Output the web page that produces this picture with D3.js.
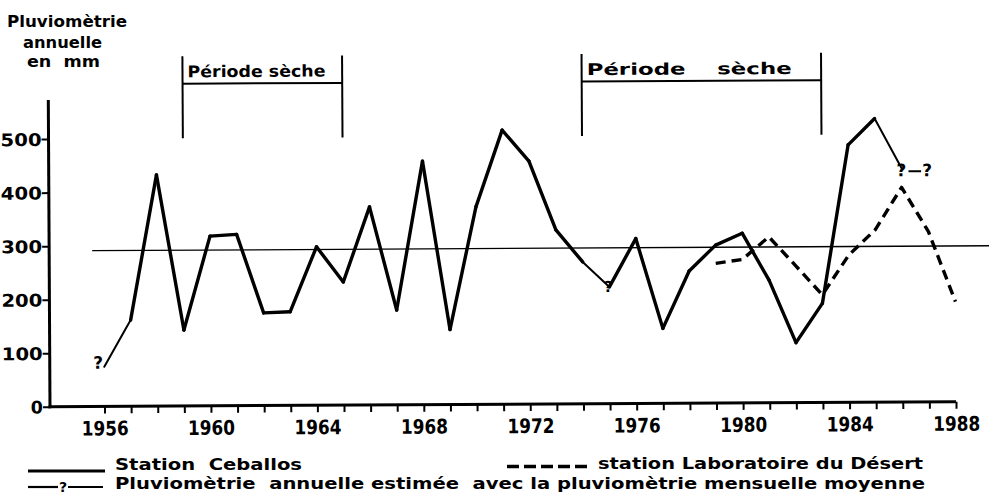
<!DOCTYPE html>
<html>
<head>
<meta charset="utf-8">
<script src="https://cdn.jsdelivr.net/npm/d3@7"></script>
<style>
  html, body { margin: 0; padding: 0; background: #fff; }
  svg { display: block; }
  text { font-family: "DejaVu Sans", "Liberation Sans", sans-serif; font-weight: bold; fill: #000; }
</style>
</head>
<body>
<svg id="chart" width="989" height="498"></svg>
<script>
// ---------- data ----------
const ceballosYears  = [1956,1957,1958,1959,1960,1961,1962,1963,1964,1965,1966,1967,1968,1969,1970,1971,1972,1973,1974,1975,1976,1977,1978,1979,1980,1981,1982,1983,1984,1985,1986];
const ceballosValues = [74,161,432,142,317,320,173,175,296,230,370,177,455,140,369,512,454,325,265,218,308,140,247,295,317,229,112,185,481,530,437];
const estimatedStartYears = [1956, 1974, 1985];   // segments whose value is estimated ("?")
const laboYears  = [1979,1980,1981,1982,1983,1984,1985,1986,1987,1988];
const laboValues = [261,268,310,256,201,275,322,401,318,187];
const estimatedYears  = [1986, 1987];
const estimatedValues = [431, 431];
const questionYears  = [1956, 1975];
const questionValues = [74, 218];
const meanValue = 291;
const dryPeriods = [[1959, 1965, "Période sèche"], [1974, 1983, "Période    sèche"]];
const xTickYears = [1956,1957,1958,1959,1960,1961,1962,1963,1964,1965,1966,1967,1968,1969,1970,1971,1972,1973,1974,1975,1976,1977,1978,1979,1980,1981,1982,1983,1984,1985,1986,1987,1988];
const xLabelYears = [1956,1960,1964,1968,1972,1976,1980,1984,1988];
const yTicks = [0,100,200,300,400,500];
const titleLines = ["Pluviomètrie", "annuelle", "en  mm"];

// ---------- scales ----------
const svg = d3.select("#chart");
const x = d3.scaleLinear().domain([1956, 1988]).range([104.5, 956]);
const y = d3.scaleLinear().domain([0, 573]).range([406.7, 100]);

// whole plot slightly tilted like the scanned figure
const g = svg.append("g").attr("transform", "rotate(-0.316 50 407)");

// axes lines
g.append("line").attr("x1", 50).attr("x2", 50).attr("y1", y(0)+1.5).attr("y2", y(573))
  .attr("stroke", "#000").attr("stroke-width", 3);
g.append("line").attr("x1", 48.5).attr("x2", x(1988)).attr("y1", y(0)).attr("y2", y(0))
  .attr("stroke", "#000").attr("stroke-width", 3);

// x axis ticks + labels
const xAxis = d3.axisBottom(x).tickValues(xTickYears).tickSize(7).tickSizeOuter(0)
  .tickFormat(d => xLabelYears.includes(d) ? String(d) : "");
const gx = g.append("g").attr("transform", `translate(0,${y(0)})`).call(xAxis);
gx.select(".domain").remove();
gx.selectAll(".tick line").attr("stroke", "#000").attr("stroke-width", 2);
gx.selectAll(".tick text").attr("y", 29).attr("dy", 0)
  .style("font-size", "20px").style("font-family", "DejaVu Sans").style("font-weight", "bold")
  .each(function(d){ if (xLabelYears.includes(d)) d3.select(this).attr("textLength", 47).attr("lengthAdjust", "spacingAndGlyphs"); });

// y axis ticks + labels
const yAxis = d3.axisLeft(y).tickValues(yTicks).tickSize(7).tickSizeOuter(0).tickFormat(d3.format("d"));
const gy = g.append("g").attr("transform", "translate(50,0)").call(yAxis);
gy.select(".domain").remove();
gy.selectAll(".tick line").attr("stroke", "#000").attr("stroke-width", 2);
gy.selectAll(".tick text").attr("x", -7).attr("dy", "0.36em")
  .style("font-size", "17.5px").style("font-family", "DejaVu Sans").style("font-weight", "bold")
  .each(function(d){ if (d >= 100) d3.select(this).attr("textLength", 41).attr("lengthAdjust", "spacingAndGlyphs"); });

// mean line
g.append("line").attr("x1", x(1955.57)).attr("x2", 990).attr("y1", y(meanValue)).attr("y2", y(meanValue))
  .attr("stroke", "#000").attr("stroke-width", 1.3);

// dry period brackets
dryPeriods.forEach(([a, b, label]) => {
  const br = g.append("g");
  br.append("line").attr("x1", x(a)).attr("x2", x(a)).attr("y1", 57).attr("y2", 139).attr("stroke", "#000").attr("stroke-width", 2);
  br.append("line").attr("x1", x(b)).attr("x2", x(b)).attr("y1", 57).attr("y2", 139).attr("stroke", "#000").attr("stroke-width", 2);
  br.append("line").attr("x1", x(a)).attr("x2", x(b)).attr("y1", 84.5).attr("y2", 84.5).attr("stroke", "#000").attr("stroke-width", 2);
  const tl = a === 1959 ? 138 : 205;
  br.append("text").attr("x", x(a) + 5).attr("y", 78).style("font-size", "16px")
    .attr("xml:space", "preserve").style("white-space", "pre")
    .attr("textLength", tl).attr("lengthAdjust", "spacingAndGlyphs").text(label);
});

// Ceballos series: solid, segment by segment
const ceb = ceballosYears.map((yr, i) => ({ yr, v: ceballosValues[i] }));
const segs = d3.pairs(ceb);
g.append("g").selectAll("line").data(segs).join("line")
  .attr("x1", d => x(d[0].yr)).attr("y1", d => y(d[0].v))
  .attr("x2", d => x(d[1].yr)).attr("y2", d => y(d[1].v))
  .attr("stroke", "#000")
  .attr("stroke-width", d => estimatedStartYears.includes(d[0].yr) ? 2 : 3.4)
  .attr("stroke-linecap", "round");

// Laboratoire du Désert: dashed
const lab = laboYears.map((yr, i) => ({ yr, v: laboValues[i] }));
g.append("path").datum(lab)
  .attr("d", d3.line().x(d => x(d.yr)).y(d => y(d.v)))
  .attr("fill", "none").attr("stroke", "#000").attr("stroke-width", 3.4)
  .attr("stroke-dasharray", "10,6").attr("stroke-linejoin", "round");

// estimated "?—?" segment
g.append("line")
  .attr("x1", x(estimatedYears[0]) + 7).attr("x2", x(estimatedYears[1]) - 7)
  .attr("y1", y(estimatedValues[0])).attr("y2", y(estimatedValues[1]))
  .attr("stroke", "#000").attr("stroke-width", 2);
g.append("g").selectAll("text").data(estimatedYears.map((yr, i) => ({ yr, v: estimatedValues[i] }))).join("text")
  .attr("x", (d, i) => x(d.yr) + (i === 0 ? 0 : -1)).attr("y", d => y(d.v) + 5)
  .attr("text-anchor", "middle").style("font-size", "17px").text("?");

// "?" markers on Ceballos
g.append("g").selectAll("text").data(questionYears.map((yr, i) => ({ yr, v: questionValues[i] }))).join("text")
  .attr("x", (d, i) => x(d.yr) + (i === 0 ? -6 : -1)).attr("y", (d, i) => y(d.v) + (i === 0 ? 2 : 5))
  .attr("text-anchor", "middle").style("font-size", (d, i) => i === 0 ? "17px" : "15px").text("?");

// y-axis title
const titleX = [7, 23, 27];
const titleY = [27, 48, 66.5];
const titleW = [120, 79, 73];
svg.append("g").selectAll("text").data(titleLines).join("text")
  .attr("x", (d, i) => titleX[i]).attr("y", (d, i) => titleY[i])
  .style("font-size", "16px").attr("xml:space", "preserve").style("white-space", "pre")
  .attr("textLength", (d, i) => titleW[i]).attr("lengthAdjust", "spacingAndGlyphs")
  .text(d => d);

// ---------- legend ----------
const leg = svg.append("g");
leg.append("line").attr("x1", 28).attr("x2", 105).attr("y1", 471).attr("y2", 471).attr("stroke", "#000").attr("stroke-width", 3);
leg.append("text").attr("x", 115).attr("y", 470).style("font-size", "16px").attr("xml:space", "preserve").style("white-space", "pre")
  .attr("textLength", 187).attr("lengthAdjust", "spacingAndGlyphs").text("Station  Ceballos");
leg.append("line").attr("x1", 507).attr("x2", 588).attr("y1", 466.5).attr("y2", 466.5).attr("stroke", "#000").attr("stroke-width", 3.4)
  .attr("stroke-dasharray", "12,5");
leg.append("text").attr("x", 598).attr("y", 468.5).style("font-size", "16px")
  .attr("textLength", 325).attr("lengthAdjust", "spacingAndGlyphs").text("station Laboratoire du Désert");
leg.append("line").attr("x1", 28).attr("x2", 58).attr("y1", 487).attr("y2", 487).attr("stroke", "#000").attr("stroke-width", 2.2);
leg.append("line").attr("x1", 68).attr("x2", 103).attr("y1", 487).attr("y2", 487).attr("stroke", "#000").attr("stroke-width", 2.2);
leg.append("text").attr("x", 63).attr("y", 492).attr("text-anchor", "middle").style("font-size", "14px").text("?");
leg.append("text").attr("x", 115).attr("y", 488.5).style("font-size", "16px").attr("xml:space", "preserve").style("white-space", "pre")
  .attr("textLength", 810).attr("lengthAdjust", "spacingAndGlyphs")
  .text("Pluviomètrie  annuelle estimée  avec la pluviomètrie mensuelle moyenne");
</script>
</body>
</html>
